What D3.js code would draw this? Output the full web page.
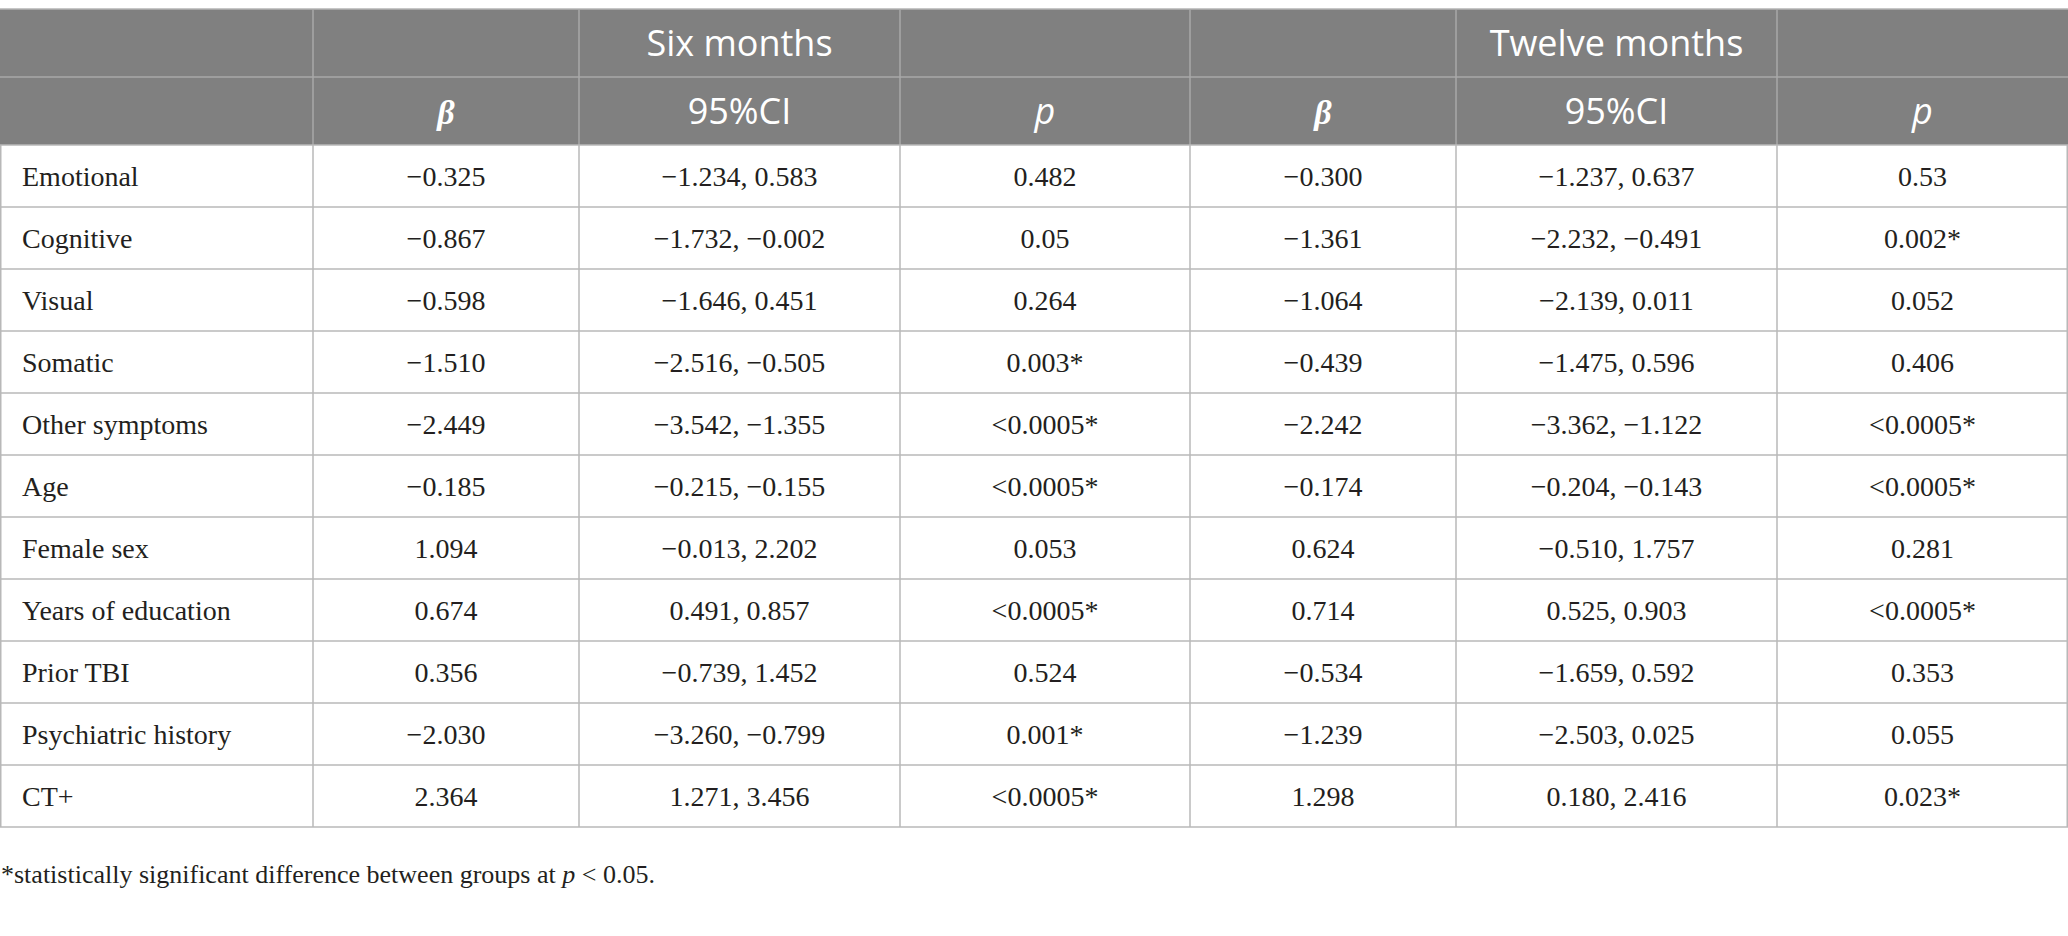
<!DOCTYPE html>
<html>
<head>
<meta charset="utf-8">
<script src="https://cdn.jsdelivr.net/npm/d3@7"></script>
<style>
  body { margin: 0; background: #fff; }
  svg { display: block; }
</style>
</head>
<body>
<svg id="tbl" width="2068" height="936"></svg>
<script>
var rowLabels = ["Emotional", "Cognitive", "Visual", "Somatic", "Other symptoms", "Age",
  "Female sex", "Years of education", "Prior TBI", "Psychiatric history", "CT+"];

var beta6 = [-0.325, -0.867, -0.598, -1.510, -2.449, -0.185, 1.094, 0.674, 0.356, -2.030, 2.364];
var ciLow6 = [-1.234, -1.732, -1.646, -2.516, -3.542, -0.215, -0.013, 0.491, -0.739, -3.260, 1.271];
var ciHigh6 = [0.583, -0.002, 0.451, -0.505, -1.355, -0.155, 2.202, 0.857, 1.452, -0.799, 3.456];
var p6 = ["0.482", "0.05", "0.264", "0.003*", "<0.0005*", "<0.0005*", "0.053", "<0.0005*", "0.524", "0.001*", "<0.0005*"];

var beta12 = [-0.300, -1.361, -1.064, -0.439, -2.242, -0.174, 0.624, 0.714, -0.534, -1.239, 1.298];
var ciLow12 = [-1.237, -2.232, -2.139, -1.475, -3.362, -0.204, -0.510, 0.525, -1.659, -2.503, 0.180];
var ciHigh12 = [0.637, -0.491, 0.011, 0.596, -1.122, -0.143, 1.757, 0.903, 0.592, 0.025, 2.416];
var p12 = ["0.53", "0.002*", "0.052", "0.406", "<0.0005*", "<0.0005*", "0.281", "<0.0005*", "0.353", "0.055", "0.023*"];

var groupLabels = ["", "", "Six months", "", "", "Twelve months", ""];
var colHeads = ["", "β", "95%CI", "p", "β", "95%CI", "p"];
var footnote = "*statistically significant difference between groups at ";

var svg = d3.select("#tbl");
var W = 2068;
var colEdges = [0, 313, 579, 900, 1190, 1456, 1777, 2068];
// note: "top" is taken by window.top, so use other names
var yTop = 9, yH1 = 77, yH2 = 145, yBottom = 827;

var fmt = d3.format(".3f");   // v7 uses the real minus sign
var ci = function (lo, hi) { return fmt(lo) + ", " + fmt(hi); };

// build the row table
var rows = rowLabels.map(function (lab, i) {
  return [lab, fmt(beta6[i]), ci(ciLow6[i], ciHigh6[i]), p6[i],
    fmt(beta12[i]), ci(ciLow12[i], ciHigh12[i]), p12[i]];
});

var y = d3.scaleBand().domain(rowLabels).range([yH2, yBottom]).padding(0);
var colMid = function (j) { return (colEdges[j] + colEdges[j + 1]) / 2; };

var serif = "'Liberation Serif', 'Times New Roman', serif";
var sans = "'Open Sans', 'Noto Sans', sans-serif";

// header background
svg.append("rect").attr("x", 0).attr("y", yTop).attr("width", W).attr("height", yH2 - yTop)
  .attr("fill", "#808080");

// header lines
var hdr = svg.append("g").attr("stroke", "#a8a8a8").attr("stroke-width", 1.5);
hdr.append("line").attr("x1", 0).attr("x2", W).attr("y1", yTop).attr("y2", yTop).attr("stroke", "#b5b5b5");
hdr.append("line").attr("x1", 0).attr("x2", W).attr("y1", yH1).attr("y2", yH1);
hdr.selectAll("line.v").data(colEdges.slice(1, -1)).enter().append("line")
  .attr("class", "v").attr("x1", function (d) { return d; }).attr("x2", function (d) { return d; })
  .attr("y1", yTop).attr("y2", yH2);

// body grid
var grid = svg.append("g").attr("stroke", "#b8b8b8").attr("stroke-width", 1.5);
grid.selectAll("line.h").data(rowLabels).enter().append("line")
  .attr("class", "h").attr("x1", 0).attr("x2", W)
  .attr("y1", function (d) { return y(d) + y.bandwidth(); })
  .attr("y2", function (d) { return y(d) + y.bandwidth(); });
grid.append("line").attr("x1", 0).attr("x2", W).attr("y1", yH2).attr("y2", yH2);
grid.selectAll("line.v").data(colEdges.slice(1, -1)).enter().append("line")
  .attr("class", "v").attr("x1", function (d) { return d; }).attr("x2", function (d) { return d; })
  .attr("y1", yH2).attr("y2", yBottom);
grid.append("line").attr("x1", 0.75).attr("x2", 0.75).attr("y1", yH2).attr("y2", yBottom);
grid.append("line").attr("x1", W - 0.75).attr("x2", W - 0.75).attr("y1", yH2).attr("y2", yBottom);

// header texts
svg.append("g").selectAll("text").data(groupLabels).enter().append("text")
  .attr("x", function (d, j) { return colMid(j); })
  .attr("y", (yTop + yH1) / 2 + 13)
  .attr("text-anchor", "middle")
  .attr("fill", "#fff")
  .style("font-family", sans).style("font-size", "36px")
  .text(function (d) { return d; });

svg.append("g").selectAll("text").data(colHeads).enter().append("text")
  .attr("x", function (d, j) { return colMid(j); })
  .attr("y", (yH1 + yH2) / 2 + 13)
  .attr("text-anchor", "middle")
  .attr("fill", "#fff")
  .style("font-family", function (d) { return d === "β" ? serif : sans; })
  .style("font-style", function (d) { return d === "β" || d === "p" ? "italic" : "normal"; })
  .style("font-weight", function (d) { return d === "β" ? "bold" : "normal"; })
  .style("font-size", function (d) { return d === "β" ? "34px" : "36px"; })
  .text(function (d) { return d; });

// body cells
var rowG = svg.append("g").selectAll("g").data(rows).enter().append("g")
  .attr("transform", function (d, i) { return "translate(0," + (y(rowLabels[i]) + y.bandwidth() / 2 + 10) + ")"; });

rowG.selectAll("text").data(function (d) { return d; }).enter().append("text")
  .attr("x", function (d, j) { return j === 0 ? 22 : colMid(j); })
  .attr("text-anchor", function (d, j) { return j === 0 ? "start" : "middle"; })
  .attr("fill", "#231f20")
  .style("font-family", serif).style("font-size", "28px")
  .text(function (d) { return d; });

// footnote
var fn = svg.append("text").attr("x", 1).attr("y", 883)
  .attr("fill", "#231f20")
  .style("font-family", serif).style("font-size", "26px");
fn.append("tspan").text(footnote);
fn.append("tspan").style("font-style", "italic").text("p");
fn.append("tspan").text(" < 0.05.");
</script>
</body>
</html>
